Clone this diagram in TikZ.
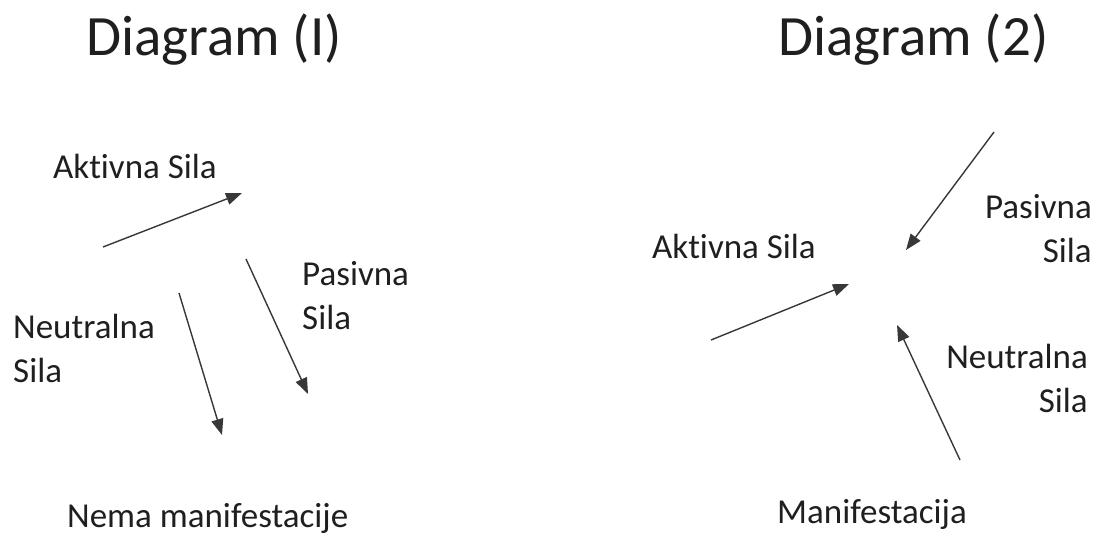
\documentclass[tikz,border=0pt]{standalone}
\usepackage{fontspec}
\setmainfont[Ligatures=NoCommon]{Carlito}
\usetikzlibrary{arrows.meta}
\begin{document}
\begin{tikzpicture}[x=1pt,y=-1pt,
  lbl/.style={inner sep=0pt, text=black!88, font=\fontsize{35}{44}\selectfont},
  ttl/.style={inner sep=0pt, text=black!88, font=\fontsize{57}{60}\selectfont},
  force/.style={draw=black!78, line width=1.4pt, -{Triangle[length=16pt,width=12pt]}}]
\useasboundingbox[fill=white] (0,0) rectangle (1094,536);

% ---- Diagram (I) ----
% multi-line labels are anchored at the baseline of their last line
\node[ttl, anchor=base west] (t1) at (86,55) {Diagram (I)};
\node[lbl, anchor=base west] (a1) at (53,178) {Aktivna Sila};
\node[lbl, anchor=base west, align=left] (n1) at (13,382) {Neutralna\\Sila};
\node[lbl, anchor=base west, align=left] (p1) at (302,329) {Pasivna\\Sila};
\node[lbl, anchor=base west] (r1) at (67,527) {Nema manifestacije};

\coordinate (a1s) at (103,247);
\coordinate (a1e) at (242,193);
\coordinate (p1s) at (246,259);
\coordinate (p1e) at (308,394);
\coordinate (n1s) at (179,293);
\coordinate (n1e) at (222,435);
\draw[force] (a1s) -- (a1e);
\draw[force] (p1s) -- (p1e);
\draw[force] (n1s) -- (n1e);

% ---- Diagram (2) ----
\node[ttl, anchor=base west] (t2) at (778,55) {Diagram (2)};
\node[lbl, anchor=base west] (a2) at (652,258) {Aktivna Sila};
\node[lbl, anchor=base east, align=right] (p2) at (1092,262) {Pasivna\\Sila};
\node[lbl, anchor=base east, align=right] (n2) at (1088,412) {Neutralna\\Sila};
\node[lbl, anchor=base west] (r2) at (777,523) {Manifestacija};

\coordinate (p2s) at (994,132);
\coordinate (p2e) at (906,250);
\coordinate (a2s) at (711,340);
\coordinate (a2e) at (849,284);
\coordinate (n2s) at (960,460);
\coordinate (n2e) at (897,325);
\draw[force] (p2s) -- (p2e);
\draw[force] (a2s) -- (a2e);
\draw[force] (n2s) -- (n2e);
\end{tikzpicture}
\end{document}
